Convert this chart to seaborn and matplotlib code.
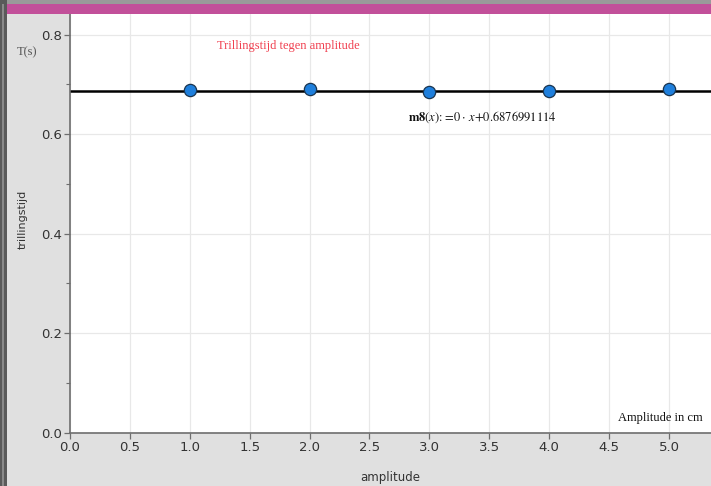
import matplotlib
matplotlib.use("Agg")
import matplotlib.pyplot as plt
import seaborn as sns
import pandas as pd
from matplotlib.patches import Rectangle
from matplotlib.ticker import MultipleLocator

# ---- data ----
amplitude = [1.0, 2.0, 3.0, 4.0, 5.0]
trillingstijd = [0.688, 0.690, 0.684, 0.686, 0.690]
fit_slope = 0.0
fit_intercept = 0.6876991114
x_ticks = [0.0, 0.5, 1.0, 1.5, 2.0, 2.5, 3.0, 3.5, 4.0, 4.5, 5.0]
y_ticks = [0.0, 0.2, 0.4, 0.6, 0.8]

df = pd.DataFrame({"amplitude": amplitude, "trillingstijd": trillingstijd})

sns.set_theme(style="white")
plt.rcParams['font.family'] = ['DejaVu Sans']

W, H = 711, 486
fig = plt.figure(figsize=(W / 100, H / 100), dpi=100, facecolor="#e0e0e0")

ax = fig.add_axes([70 / W, 1 - 432.7 / H, (W - 70) / W, (432.7 - 14) / H])
ax.set_facecolor("white")

# fit line
ax.axhline(fit_intercept + fit_slope * 0, color="black", lw=1.8, zorder=2)

sns.scatterplot(data=df, x="amplitude", y="trillingstijd", ax=ax,
                s=78, color="#1f7fdc", edgecolor="#1a3550", linewidth=0.9,
                zorder=3, legend=False)

ax.set_xlim(0, (W - 70) / 119.8)
ax.set_ylim(0, (432.7 - 14) / 497.5)
ax.set_xticks(x_ticks)
ax.set_yticks(y_ticks)
ax.set_xticklabels([f"{v:.1f}" for v in x_ticks])
ax.set_yticklabels([f"{v:.1f}" for v in y_ticks])
ax.yaxis.set_minor_locator(MultipleLocator(0.1))
ax.grid(True, which="major", color="#e8e8e8", lw=0.9, zorder=0)
ax.set_axisbelow(True)

for s in ["top", "right"]:
    ax.spines[s].set_visible(False)
for s in ["left", "bottom"]:
    ax.spines[s].set_color("#6e6e6e")
    ax.spines[s].set_linewidth(1.2)

ax.tick_params(axis="both", which="major", direction="out", length=4, width=0.9,
               color="#6e6e6e", labelsize=9.5, labelcolor="#333333", pad=2)
ax.tick_params(axis="y", which="minor", direction="out", length=3, width=0.8,
               color="#6e6e6e", left=True)
ax.tick_params(axis="x", which="major", bottom=True)
ax.tick_params(axis="y", which="major", left=True)

ax.set_xlabel("amplitude", fontsize=8.5, color="#333333", labelpad=12)
ax.set_ylabel("trillingstijd", fontsize=8, color="#333333")
ax.yaxis.set_label_coords((28 - 70) / (W - 70), (432.7 - 219) / (432.7 - 14))

# annotations
serif = ['Liberation Serif', 'DejaVu Serif']
fig.text(217 / W, 1 - 46 / H, "Trillingstijd tegen amplitude", color="#f04050",
         fontsize=9, family=serif, va="center", ha="left")
fig.text(17 / W, 1 - 52 / H, "T(s)", color="#555555", fontsize=9, family=serif,
         va="center", ha="left")
fig.text(703 / W, 1 - 418 / H, "Amplitude in cm", color="#111111", fontsize=9,
         family=serif, va="center", ha="right")
fig.text(408 / W, 1 - 117 / H,
         r"$\mathbf{m8}\left(x\right)\!:\!=\!0\cdot\,x\!+\!0.6876991114$",
         color="#111111", fontsize=9, va="center", ha="left",
         math_fontfamily="stix")

# frame decorations: top gray line, magenta bar, left dark border
fig.patches.append(Rectangle((0, 1 - 4 / H), 1, 4 / H, transform=fig.transFigure,
                             facecolor="#9a9a9a", edgecolor="none", zorder=5))
fig.patches.append(Rectangle((0, 1 - 14 / H), 1, 10 / H, transform=fig.transFigure,
                             facecolor="#c2509a", edgecolor="none", zorder=5))
fig.patches.append(Rectangle((0, 0), 7 / W, 1, transform=fig.transFigure,
                             facecolor="#5a5a5a", edgecolor="none", zorder=6))
fig.patches.append(Rectangle((2 / W, 0), 2 / W, 1 - 4 / H, transform=fig.transFigure,
                             facecolor="#8a8a8a", edgecolor="none", zorder=7))

fig.savefig("out.png", dpi=100, facecolor=fig.get_facecolor())
